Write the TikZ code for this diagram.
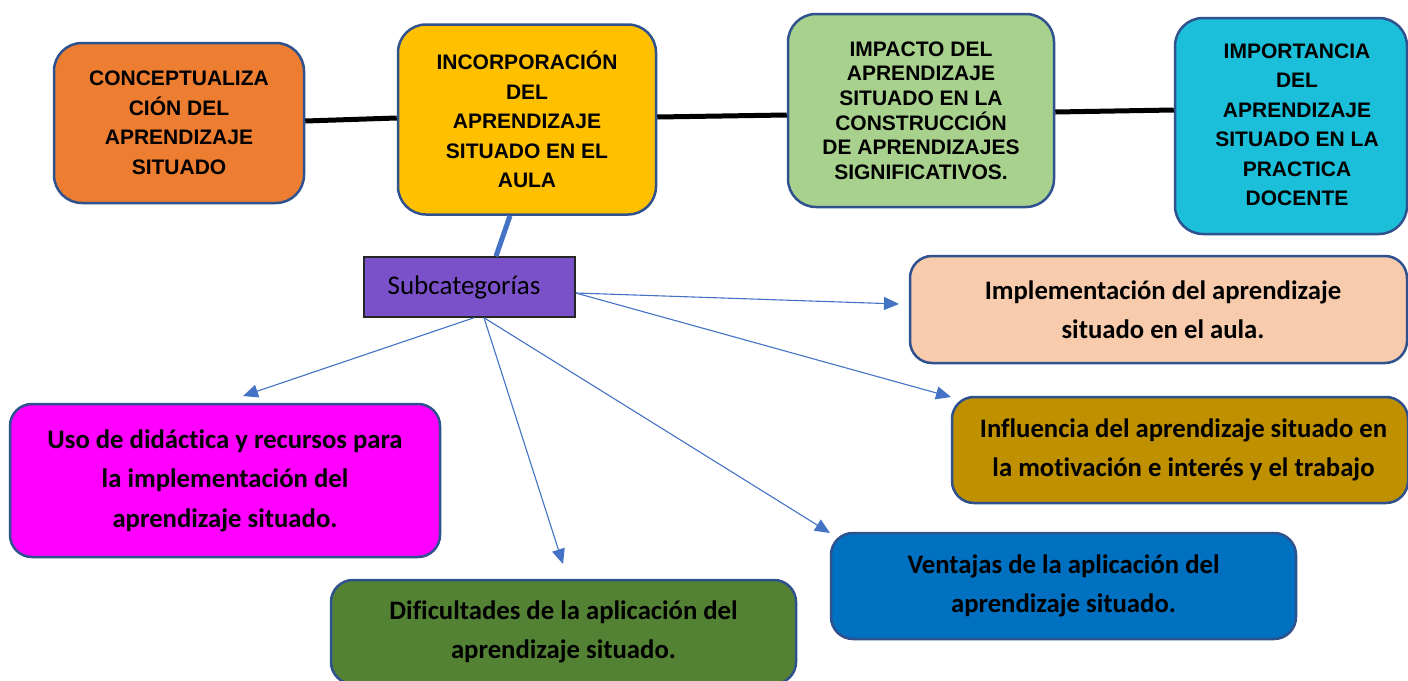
\documentclass[tikz,border=0pt]{standalone}
\usepackage{fontspec}
\newfontfamily\arialf{Liberation Sans}
\newfontfamily\calf[Ligatures=NoCommon]{Carlito}
\usetikzlibrary{arrows.meta}
\definecolor{bordc}{HTML}{2F528F}
\definecolor{arrc}{HTML}{4472C4}
\definecolor{corange}{HTML}{ED7D31}
\definecolor{cyellow}{HTML}{FFC000}
\definecolor{cgreenl}{HTML}{A9D18E}
\definecolor{ccyan}{HTML}{1BBFD9}
\definecolor{cpeach}{HTML}{F8CBAD}
\definecolor{cgold}{HTML}{BF9000}
\definecolor{cblue}{HTML}{0070C0}
\definecolor{cgreend}{HTML}{548235}
\definecolor{cmag}{HTML}{FF00FF}
\definecolor{cpurple}{HTML}{7B51C9}
\tikzset{
  topfont/.style={font=\arialf\bfseries\fontsize{21}{29.5}\selectfont},
  botfont/.style={font=\calf\bfseries\fontsize{26.7}{39.5}\selectfont},
  topbox/.style={draw=bordc, line width=2.5pt, rounded corners=28pt, align=center, inner sep=0pt, topfont},
  botbox/.style={draw=bordc, line width=2.5pt, rounded corners=22pt, align=center, inner sep=0pt, botfont},
  plaintext/.style={align=center, inner sep=0pt},
  thickline/.style={line width=5pt, black},
  subarrow/.style={arrc, line width=1.1pt, -{Triangle[length=15pt,width=13pt]}}
}
\begin{document}
\begin{tikzpicture}[x=1pt,y=-1pt]
\useasboundingbox (0,0) rectangle (1408,680);
\clip (0,0) rectangle (1408,680);
\fill[white] (0,0) rectangle (1408,680);

% top row
\node[topbox, fill=corange, minimum width=250pt, minimum height=160pt] (orange) at (179,123)
  {CONCEPTUALIZA\\CIÓN DEL\\APRENDIZAJE\\SITUADO};
\node[topbox, fill=cyellow, minimum width=258pt, minimum height=190pt] (yellow) at (527,119.5)
  {INCORPORACIÓN\\DEL\\APRENDIZAJE\\SITUADO EN EL\\AULA};
\node[topbox, fill=cgreenl, minimum width=266pt, minimum height=193pt,
  font=\arialf\bfseries\fontsize{21}{24.6}\selectfont] (green) at (921,110.5)
  {IMPACTO DEL\\APRENDIZAJE\\SITUADO EN LA\\CONSTRUCCIÓN\\DE APRENDIZAJES\\SIGNIFICATIVOS.};
\node[topbox, fill=ccyan, minimum width=232pt, minimum height=216pt] (cyan) at (1291,126) {};
\node[plaintext, topfont] (cyanT) at (1297,125)
  {IMPORTANCIA\\DEL\\APRENDIZAJE\\SITUADO EN LA\\PRACTICA\\DOCENTE};

% connectors top
\draw[thickline] ([yshift=2pt]orange.east) -- ([yshift=1.5pt]yellow.west);
\draw[thickline] ([yshift=2.5pt]yellow.east) -- ([yshift=-4.5pt]green.west);
\draw[thickline] ([yshift=-1.5pt]green.east) -- ([yshift=16pt]cyan.west);

% subcategorias
\node[draw=black!85, line width=1.5pt, fill=cpurple, minimum width=211pt, minimum height=60pt,
  inner sep=0pt, font=\calf\fontsize{27}{32}\selectfont] (sub) at (469.5,287)
  {\hspace*{-11pt}Subcategorías};
\draw[arrc, line width=5pt] ([xshift=-17pt]yellow.south) -- ([xshift=26.5pt]sub.north);

% bottom boxes
\node[botbox, fill=cpeach, minimum width=497pt, minimum height=107pt] (peach) at (1158.5,309.5) {};
\node[plaintext, botfont] (peachT) at (1163,309.5)
  {Implementación del aprendizaje\\situado en el aula.};
\node[botbox, fill=cgold, minimum width=456pt, minimum height=106pt] (gold) at (1180,450) {};
\node[plaintext, botfont] (goldT) at (1183.5,450)
  {Influencia del aprendizaje situado en\\la motivación e interés y el trabajo};
\node[botbox, fill=cblue, minimum width=465pt, minimum height=106pt] (vent) at (1063.5,586)
  {Ventajas de la aplicación del\\aprendizaje situado.};
\node[botbox, fill=cgreend, minimum width=465pt, minimum height=104pt] (dif) at (563.5,632)
  {Dificultades de la aplicación del\\aprendizaje situado.};
\node[botbox, fill=cmag, minimum width=430pt, minimum height=153pt] (uso) at (225,480.5)
  {Uso de didáctica y recursos para\\la implementación del\\aprendizaje situado.};

% arrow tips
\coordinate (tpeach) at (899,304);
\coordinate (tgold) at (951,397);
\coordinate (tvent) at (830,533);
\coordinate (tdif) at (563,564);
\coordinate (tuso) at (243,396);

\draw[subarrow] ([yshift=-6pt]sub.east) -- (tpeach);
\draw[subarrow] ([yshift=-6pt]sub.east) -- (tgold);
\draw[subarrow] ([xshift=14.5pt]sub.south) -- (tvent);
\draw[subarrow] ([xshift=14.5pt]sub.south) -- (tdif);
\draw[subarrow] ([xshift=4.5pt]sub.south) -- (tuso);
\end{tikzpicture}
\end{document}
